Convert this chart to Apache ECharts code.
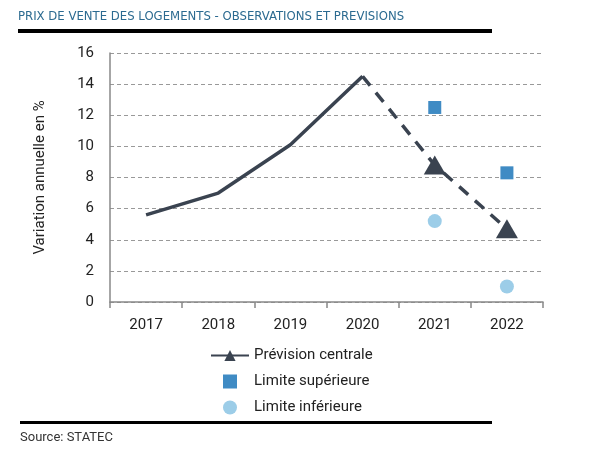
<!DOCTYPE html>
<html>
<head>
<meta charset="utf-8">
<script src="https://cdn.jsdelivr.net/npm/echarts@6/dist/echarts.min.js"></script>
<style>
  html, body { margin: 0; padding: 0; background: #fff; }
  #chart { width: 600px; height: 450px; }
</style>
</head>
<body>
<div id="chart"></div>
<script>
// données
const years = ['2017', '2018', '2019', '2020', '2021', '2022'];
const observed = [5.6, 7.0, 10.1, 14.5, null, null];
const central = [null, null, null, 14.5, 8.8, 4.7];
const upper = [null, null, null, null, 12.5, 8.3];
const lower = [null, null, null, null, 5.2, 1.0];

const dark = '#3a4350';
const font = 'Roboto';

let chart = echarts.init(document.getElementById('chart'));

// le point 2020 relie le trait plein au pointillé, sans symbole
const centralData = central.map((v, i) => i === 3 ? { value: v, symbol: 'none' } : v);

chart.setOption({
    animation: false,
    textStyle: { fontFamily: font },
    title: {
        text: 'PRIX DE VENTE DES LOGEMENTS - OBSERVATIONS ET PREVISIONS',
        left: 13, top: 5,
        textStyle: { fontFamily: '"DejaVu Sans Condensed", Roboto', fontSize: 13, fontWeight: 'normal', color: '#2b6a90' }
    },
    graphic: [
        { type: 'rect', shape: { x: 18, y: 29, width: 474, height: 4 }, style: { fill: '#000' } },
        { type: 'rect', shape: { x: 20, y: 421, width: 472, height: 3 }, style: { fill: '#000' } },
        { type: 'text', left: 20, top: 431, style: { text: 'Source: STATEC', fontFamily: font, fontSize: 13, fill: '#333' } }
    ],
    grid: { left: 110, right: 57, top: 53, bottom: 148 },
    legend: {
        orient: 'vertical',
        left: 205, top: 343,
        itemWidth: 38, itemHeight: 14, itemGap: 11,
        textStyle: { fontSize: 15, color: '#222', fontFamily: font },
        data: [
            { name: 'Prévision centrale', lineStyle: { type: 'solid' } },
            { name: 'Limite supérieure', icon: 'path://M0 0H10V10H0Z' },
            { name: 'Limite inférieure', icon: 'circle' }
        ]
    },
    xAxis: {
        type: 'category',
        data: years,
        boundaryGap: true,
        axisLine: { lineStyle: { color: '#888', width: 1.5 } },
        axisTick: { show: true, length: 6, lineStyle: { color: '#888', width: 1.5 } },
        axisLabel: { fontSize: 15, color: '#222', margin: 16 }
    },
    yAxis: {
        type: 'value',
        min: 0, max: 16, interval: 2,
        name: 'Variation annuelle en %',
        nameLocation: 'middle',
        nameGap: 62,
        nameTextStyle: { fontSize: 15, color: '#222' },
        axisLine: { show: true, lineStyle: { color: '#888', width: 1.5 } },
        axisTick: { show: false },
        axisLabel: { fontSize: 15, color: '#222', margin: 16 },
        splitLine: { lineStyle: { type: [4, 3], color: '#999', width: 1 } }
    },
    series: [
        {
            type: 'line',
            data: observed,
            symbol: 'none',
            lineStyle: { color: dark, width: 3.5 },
            itemStyle: { color: dark },
            z: 3
        },
        {
            name: 'Prévision centrale',
            type: 'line',
            data: centralData,
            symbol: 'triangle',
            symbolSize: [22, 19],
            showAllSymbol: true,
            lineStyle: { color: dark, width: 3.5, type: [12, 9] },
            itemStyle: { color: dark },
            z: 3
        },
        {
            name: 'Limite supérieure',
            type: 'scatter',
            data: upper,
            symbol: 'rect',
            symbolSize: 13,
            itemStyle: { color: '#3f8bc4', opacity: 1 }
        },
        {
            name: 'Limite inférieure',
            type: 'scatter',
            data: lower,
            symbol: 'circle',
            symbolSize: 14,
            itemStyle: { color: '#9ccde8', opacity: 1 }
        }
    ]
});
</script>
</body>
</html>
